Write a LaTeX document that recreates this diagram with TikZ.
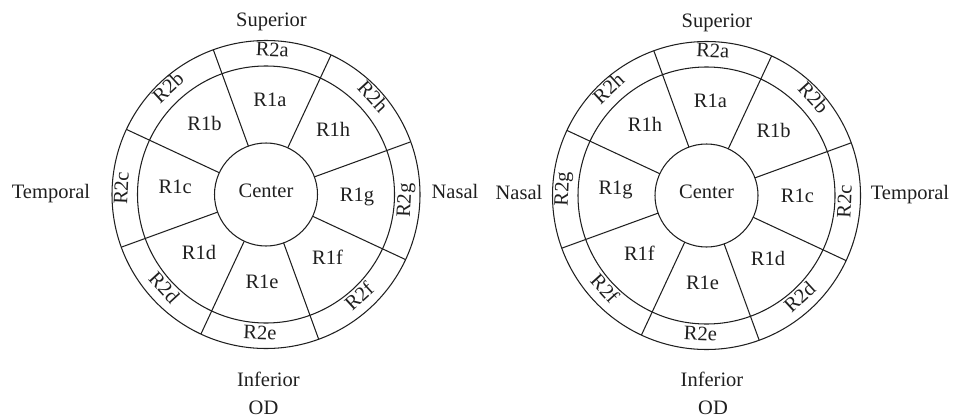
\documentclass[tikz,border=0pt]{standalone}
\usepackage{fontspec}
\setmainfont{Liberation Serif}
\tikzset{
  ln/.style={line width=1.05pt, draw=black!88},
  lbl/.style={inner sep=0pt, text height=0.66em, text depth=0pt,
    font=\fontsize{20.5}{24}\selectfont, text=black!88},
  side/.style={inner sep=0pt, anchor=base,
    font=\fontsize{20.5}{24}\selectfont, text=black!88},
  ctr/.style={lbl, circle, ln, draw, minimum size=103pt}
}
\begin{document}
\begin{tikzpicture}[x=1pt,y=1pt]
\useasboundingbox (0,0) rectangle (957,-417);
% ---------- left diagram (OD) ----------
\begin{scope}[shift={(266,-194.5)}]
  \draw[ln] (0,0) circle (154);
  \draw[ln] (0,0) circle (128.5);
  \foreach \a in {20,65,...,335} \draw[ln] (\a:51.5) -- (\a:154);
  \node[ctr] (Lc) at (0,0) {Center};
  \foreach \a/\l in {87.5/a,132.5/b,177.5/c,222.5/d,267.5/e,312.5/f,357.5/g,42.5/h}{
    \pgfmathsetmacro\rot{\a<180?\a-90:\a+90}
    \node[lbl] (L1\l) at (\a:91) {R1\l};
    \node[lbl, rotate=\rot] (L2\l) at (\a:141.5) {R2\l};
  }
\end{scope}
\node[side] (Lsup) at (271.5,-26.7) {Superior};
\node[side] (Linf) at (268.3,-386.5) {Inferior};
\node[side] (Lod) at (263.5,-414) {OD};
\node[side] (Ltem) at (51,-198.3) {Temporal};
\node[side] (Lnas) at (455,-198.3) {Nasal};
% ---------- right diagram (OD) ----------
\begin{scope}[shift={(706.5,-195.5)}]
  \draw[ln] (0,0) circle (154);
  \draw[ln] (0,0) circle (128.5);
  \foreach \a in {20,65,...,335} \draw[ln] (\a:51.5) -- (\a:154);
  \node[ctr] (Rc) at (0,0) {Center};
  \foreach \a/\l in {87.5/a,132.5/h,177.5/g,222.5/f,267.5/e,312.5/d,357.5/c,42.5/b}{
    \pgfmathsetmacro\rot{\a<180?\a-90:\a+90}
    \node[lbl] (R1\l) at (\a:91) {R1\l};
    \node[lbl, rotate=\rot] (R2\l) at (\a:141.5) {R2\l};
  }
\end{scope}
\node[side] (Rsup) at (717,-27.3) {Superior};
\node[side] (Rinf) at (712,-386.7) {Inferior};
\node[side] (Rod) at (713,-414) {OD};
\node[side] (Rtem) at (910,-199.5) {Temporal};
\node[side] (Rnas) at (519,-199.5) {Nasal};
\end{tikzpicture}
\end{document}
